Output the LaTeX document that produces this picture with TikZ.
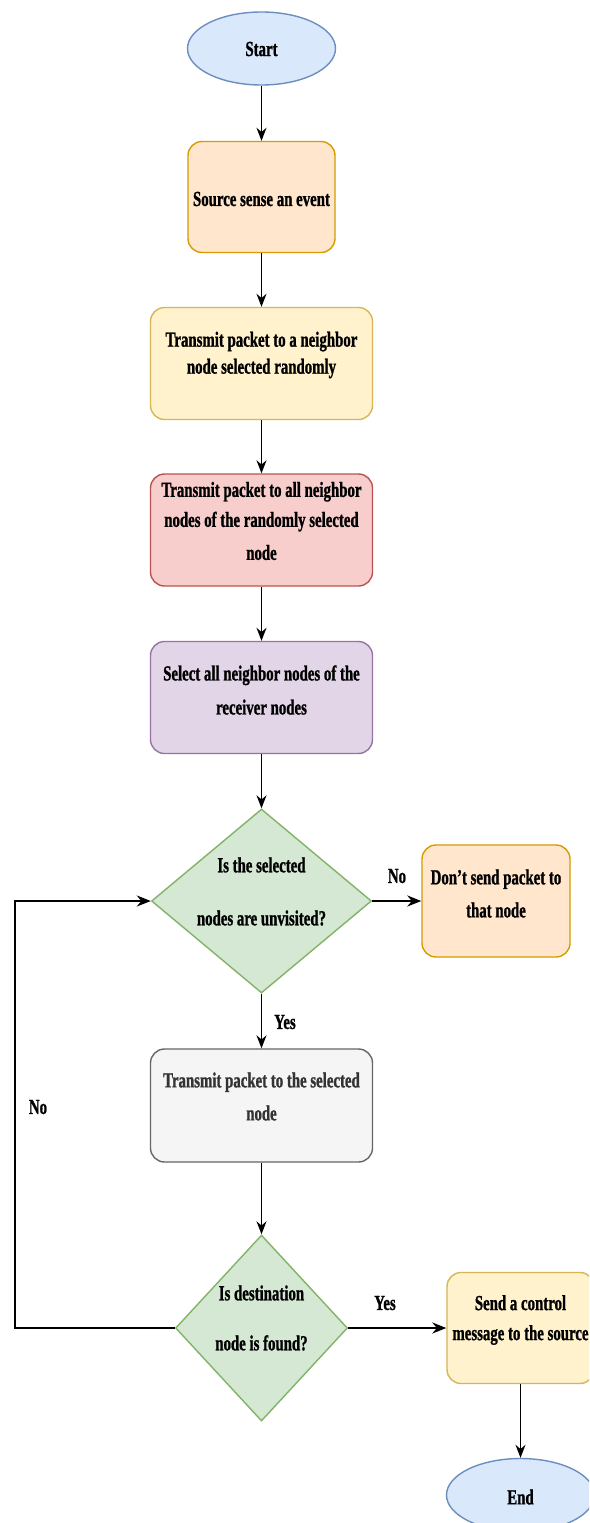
\documentclass[tikz,border=0pt]{standalone}
\usepackage{fontspec}
\setmainfont{Liberation Serif}[FakeStretch=0.69, BoldFeatures={FakeBold=1}]
\usetikzlibrary{shapes.geometric,arrows.meta,calc}

\definecolor{blueFill}{HTML}{DAE8FC}
\definecolor{blueLine}{HTML}{6C8EBF}
\definecolor{orangeFill}{HTML}{FFE6CC}
\definecolor{orangeLine}{HTML}{D79B00}
\definecolor{yellowFill}{HTML}{FFF2CC}
\definecolor{yellowLine}{HTML}{D6B656}
\definecolor{redFill}{HTML}{F8CECC}
\definecolor{redLine}{HTML}{B85450}
\definecolor{purpleFill}{HTML}{E1D5E7}
\definecolor{purpleLine}{HTML}{9673A6}
\definecolor{greenFill}{HTML}{D5E8D4}
\definecolor{greenLine}{HTML}{82B366}
\definecolor{greyFill}{HTML}{F5F5F5}
\definecolor{greyLine}{HTML}{666666}
\definecolor{greyText}{HTML}{333333}

\begin{document}
\begin{tikzpicture}[x=1pt,y=-1pt,
  terminal/.style={ellipse, draw=blueLine, fill=blueFill, line width=1.4pt,
    minimum width=148pt, minimum height=73pt, inner sep=0pt},
  procbox/.style={rectangle, rounded corners=14pt, line width=1.4pt, inner sep=0pt},
  narrowbox/.style={procbox, minimum width=147pt, minimum height=111pt},
  widebox/.style={procbox, minimum width=222pt, minimum height=112pt},
  decision/.style={diamond, draw=greenLine, fill=greenFill, line width=1.4pt, inner sep=0pt},
  txt/.style={font=\bfseries\fontsize{21.5}{30}\selectfont, align=center, inner sep=0pt},
  flow/.style={line width=1.3pt, -{Stealth[length=13pt,width=10pt]}},
  bigflow/.style={line width=2pt, -{Stealth[length=14pt,width=11pt]}},
  loopline/.style={line width=2pt}
]
\path[use as bounding box, fill=white] (0,0) rectangle (589,1523);
\clip (0,0) rectangle (589,1523);

% main column
\node[terminal] (start) at (261.5,48.5) {};
\node[txt] (startT) at (261.5,49) {Start};

\node[narrowbox, draw=orangeLine, fill=orangeFill] (sense) at (261.5,197) {};
\node[txt] (senseT) at (261.5,199) {Source sense an event};

\node[widebox, draw=yellowLine, fill=yellowFill] (rand) at (261.5,363.5) {};
\node[txt] (randT) at (261.5,355) {Transmit packet to a neighbor\\[-3pt]node selected randomly};

\node[widebox, draw=redLine, fill=redFill] (all) at (261.5,530) {};
\node[txt] (allT) at (261.5,521) {Transmit packet to all neighbor\\nodes of the randomly selected\\[3pt]node};

\node[widebox, draw=purpleLine, fill=purpleFill] (sel) at (261.5,697.5) {};
\node[txt] (selT) at (261.5,690) {Select all neighbor nodes of the\\[4pt]receiver nodes};

\node[decision, minimum width=220pt, minimum height=184pt] (unv) at (261.5,901) {};
\node[txt] (unvT) at (261.5,891.5) {Is the selected\\[23pt]nodes are unvisited?};

\node[narrowbox, minimum width=148pt, minimum height=112pt, draw=orangeLine, fill=orangeFill] (drop) at (496,901) {};
\node[txt] (dropT) at (496,893.5) {Don’t send packet to\\[3pt]that node};

\node[widebox, draw=greyLine, fill=greyFill, minimum height=113pt] (send) at (261.5,1105.5) {};
\node[txt, text=greyText] (sendT) at (261.5,1096.5) {Transmit packet to the selected\\[3pt]node};

\node[decision, minimum width=172pt, minimum height=186pt] (found) at (261.5,1328) {};
\node[txt] (foundT) at (261.5,1318) {Is destination\\[20pt]node is found?};

\node[narrowbox, draw=yellowLine, fill=yellowFill] (ctrl) at (520.5,1328) {};
\node[txt] (ctrlT) at (520.5,1320) {Send a control\\message to the source};

\node[terminal] (stop) at (520.5,1495) {};
\node[txt] (stopT) at (520.5,1497) {End};

% connectors
\draw[flow] (start) -- (sense);
\draw[flow] (sense) -- (rand);
\draw[flow] (rand) -- (all);
\draw[flow] (all) -- (sel);
\draw[flow] (sel) -- (unv);
\draw[bigflow] (unv.east) -- (drop.west);
\draw[flow] (unv.south) -- (send.north);
\draw[flow] (send.south) -- (found.north);
\draw[bigflow] (found.east) -- (ctrl.west);
\draw[flow] (ctrl) -- (stop);

\coordinate (loopx) at (15,0);
\draw[loopline, -{Stealth[length=14pt,width=11pt]}]
  (found.west) -- (found.west -| loopx) |- (unv.west);

% branch labels
\node[txt] (lblNo1) at (397,876) {No};
\node[txt] (lblYes1) at (285,1022) {Yes};
\node[txt] (lblNo2) at (38,1107) {No};
\node[txt] (lblYes2) at (385,1303) {Yes};
\end{tikzpicture}
\end{document}
